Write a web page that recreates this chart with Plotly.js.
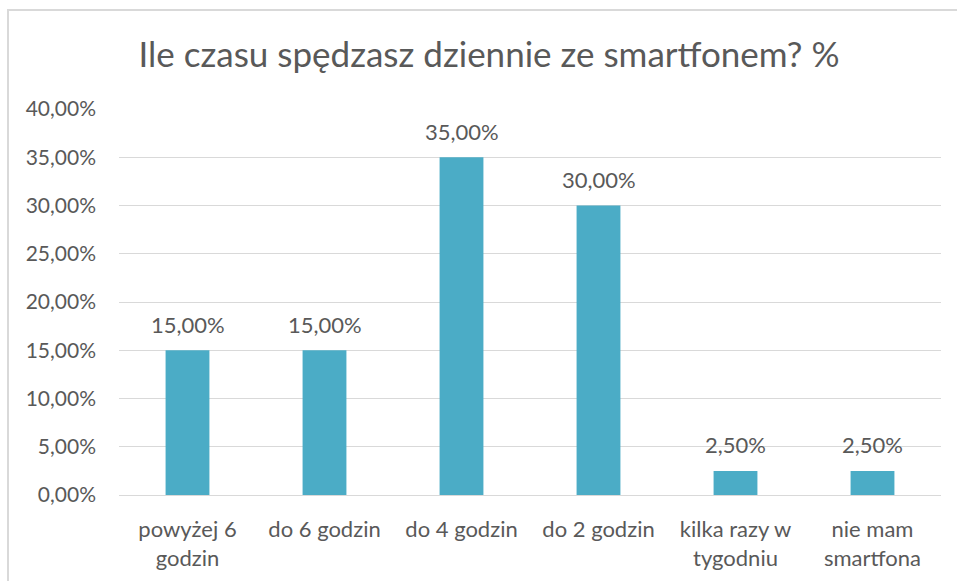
<!DOCTYPE html>
<html>
<head>
<meta charset="utf-8">
<script src="https://cdn.plot.ly/plotly-3.0.1.min.js"></script>
<style>
  html, body { margin: 0; padding: 0; background: #fff; overflow: hidden; }
  #wrap { position: relative; width: 957px; height: 581px; }
  #chart { position: absolute; left: 0; top: 0; width: 957px; height: 581px; }
  #frame { position: absolute; left: 7px; top: 9px; width: 960px; height: 600px;
           border: 2px solid #d9d9d9; pointer-events: none; box-sizing: border-box; }
</style>
</head>
<body>
<div id="wrap">
  <div id="chart"></div>
  <div id="frame"></div>
</div>
<script>
const chartTitle = "Ile czasu spędzasz dziennie ze smartfonem? %";
const categories = ["powyżej 6<br>godzin", "do 6 godzin", "do 4 godzin", "do 2 godzin", "kilka razy w<br>tygodniu", "nie mam<br>smartfona"];
const values = [0.15, 0.15, 0.35, 0.30, 0.025, 0.025];
const yTicks = [0, 0.05, 0.10, 0.15, 0.20, 0.25, 0.30, 0.35, 0.40];

const fmt = v => (v * 100).toFixed(2).replace('.', ',') + '%';
const FONT = 'Lato, "Open Sans", sans-serif';
const TXT = '#595959';

const trace = {
  type: 'bar',
  x: categories,
  y: values,
  marker: { color: '#4bacc6' },
  hoverinfo: 'none'
};

const annotations = categories.map((c, i) => ({
  x: c, y: values[i], xref: 'x', yref: 'y',
  text: fmt(values[i]), showarrow: false,
  yanchor: 'middle', yshift: 26,
  font: { family: FONT, size: 22, color: TXT }
}));

const layout = {
  width: 957, height: 581,
  margin: { l: 119, r: 16, t: 109, b: 86, pad: 0 },
  paper_bgcolor: 'rgba(0,0,0,0)',
  plot_bgcolor: 'rgba(0,0,0,0)',
  bargap: 0.68,
  showlegend: false,
  title: {
    text: chartTitle,
    font: { family: FONT, size: 35, color: TXT },
    x: 0.511, xanchor: 'center', y: 0.905, yanchor: 'middle'
  },
  xaxis: {
    type: 'category',
    showgrid: false, zeroline: false, showline: false,
    ticks: '', ticklabelstandoff: 19,
    tickfont: { family: FONT, size: 22, color: TXT },
    fixedrange: true
  },
  yaxis: {
    range: [0, 0.40],
    tickvals: yTicks,
    ticktext: yTicks.map(fmt),
    showgrid: true, gridcolor: '#d9d9d9', gridwidth: 1,
    zeroline: true, zerolinecolor: '#d9d9d9', zerolinewidth: 1,
    showline: false, ticks: '', ticklabelstandoff: 22,
    tickfont: { family: FONT, size: 21, color: TXT },
    fixedrange: true
  },
  annotations: annotations
};

Plotly.newPlot('chart', [trace], layout, { staticPlot: true, displayModeBar: false });
</script>
</body>
</html>
